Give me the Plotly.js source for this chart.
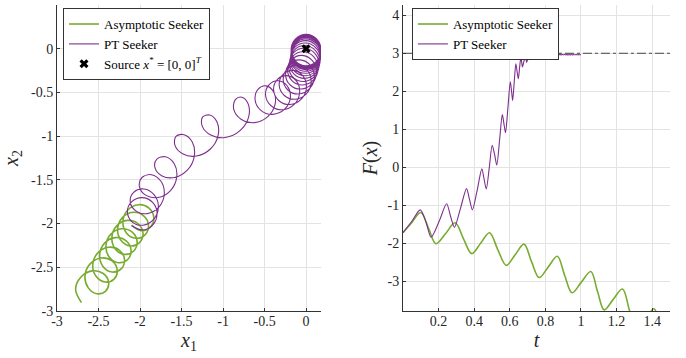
<!DOCTYPE html>
<html>
<head>
<meta charset="utf-8">
<script src="https://cdn.plot.ly/plotly-3.0.1.min.js"></script>
<style>html,body{margin:0;padding:0;background:#fff;}#chart{width:686px;height:358px;}</style>
</head>
<body>
<div id="chart"></div>
<script>
// ---- Left panel: trajectories in the (x1, x2) plane ----
const asymX = [
 -2.100,-1.988,-1.876,-1.834,-1.892,-2.020,-2.148,-2.206,
 -2.164,-2.052,-1.940,-1.898,-1.956,-2.084,-2.212,-2.270,
 -2.228,-2.117,-2.006,-1.964,-2.023,-2.152,-2.281,-2.339,
 -2.298,-2.187,-2.076,-2.035,-2.094,-2.222,-2.351,-2.410,
 -2.369,-2.259,-2.148,-2.108,-2.167,-2.297,-2.427,-2.486,
 -2.446,-2.336,-2.227,-2.187,-2.248,-2.378,-2.508,-2.569,
 -2.529,-2.421,-2.313,-2.275,-2.337,-2.469,-2.601,-2.663,
 -2.625,-2.519,-2.414,-2.378,-2.443,-2.577,-2.711,-2.776,
 -2.705];
const asymY = [
 -2.020,-2.081,-2.042,-1.933,-1.824,-1.784,-1.845,-1.976,
 -2.107,-2.168,-2.129,-2.020,-1.911,-1.871,-1.932,-2.063,
 -2.194,-2.256,-2.218,-2.110,-2.002,-1.964,-2.026,-2.158,
 -2.290,-2.352,-2.314,-2.206,-2.098,-2.059,-2.121,-2.253,
 -2.385,-2.448,-2.411,-2.304,-2.197,-2.161,-2.224,-2.357,
 -2.490,-2.554,-2.518,-2.412,-2.306,-2.271,-2.335,-2.469,
 -2.603,-2.669,-2.636,-2.532,-2.428,-2.394,-2.461,-2.597,
 -2.733,-2.803,-2.772,-2.672,-2.571,-2.541,-2.611,-2.750,
 -2.905];
const ptX = [
 -2.102,-1.975,-1.848,-1.795,-1.848,-1.975,-2.102,-2.152,
 -2.096,-1.966,-1.836,-1.779,-1.829,-1.953,-2.077,-2.118,
 -2.052,-1.913,-1.773,-1.708,-1.748,-1.863,-1.977,-2.008,
 -1.932,-1.783,-1.633,-1.558,-1.588,-1.693,-1.797,-1.821,
 -1.740,-1.584,-1.428,-1.346,-1.371,-1.469,-1.567,-1.580,
 -1.487,-1.320,-1.153,-1.060,-1.073,-1.160,-1.247,-1.251,
 -1.148,-0.972,-0.796,-0.693,-0.697,-0.774,-0.852,-0.871,
 -0.783,-0.622,-0.461,-0.373,-0.392,-0.484,-0.577,-0.614,
 -0.545,-0.401,-0.258,-0.189,-0.226,-0.336,-0.447,-0.488,
 -0.422,-0.283,-0.143,-0.078,-0.118,-0.233,-0.347,-0.391,
 -0.330,-0.194,-0.058, 0.004,-0.041,-0.159,-0.277,-0.324,
 -0.265,-0.131, 0.002, 0.061, 0.015,-0.106,-0.227,-0.276,
 -0.220,-0.089, 0.042, 0.099, 0.050,-0.074,-0.197,-0.247,
 -0.191,-0.061, 0.070, 0.126, 0.076,-0.048,-0.172,-0.223,
 -0.168,-0.039, 0.090, 0.144, 0.093,-0.032,-0.157,-0.209,
 -0.155,-0.026, 0.102, 0.156, 0.105,-0.021,-0.147,-0.199,
 -0.145,-0.017, 0.111, 0.165, 0.113,-0.013,-0.139,-0.191,
 -0.138,-0.010, 0.118, 0.171, 0.119,-0.008,-0.134,-0.187,
 -0.133,-0.006, 0.122, 0.175, 0.122,-0.004,-0.131,-0.184,
 -0.131,-0.003, 0.124, 0.177, 0.125,-0.002,-0.129,-0.182,
 -0.129,-0.001, 0.126, 0.179, 0.127, 0.000,-0.127,-0.180,
 -0.127, 0.000, 0.127, 0.180, 0.127, 0.000,-0.127,-0.180,
 -0.127, 0.000, 0.127, 0.180, 0.127, 0.000,-0.127,-0.180,
 -0.127, 0.000, 0.127, 0.180, 0.127, 0.000,-0.127,-0.180,
 -0.127, 0.000, 0.127, 0.180, 0.127, 0.000,-0.127,-0.180,
 -0.127, 0.000, 0.127, 0.180, 0.127, 0.000,-0.127,-0.180,
 -0.127, 0.000, 0.127, 0.180, 0.127, 0.000,-0.127,-0.180,
 -0.127];
const ptY = [
 -2.022,-2.073,-2.017,-1.888,-1.758,-1.703,-1.753,-1.866,
 -1.980,-2.019,-1.952,-1.811,-1.671,-1.604,-1.643,-1.749,
 -1.855,-1.886,-1.812,-1.664,-1.516,-1.441,-1.473,-1.574,
 -1.675,-1.701,-1.622,-1.469,-1.316,-1.236,-1.263,-1.358,
 -1.452,-1.473,-1.387,-1.228,-1.068,-0.983,-1.003,-1.103,
 -1.202,-1.228,-1.147,-0.993,-0.838,-0.758,-0.783,-0.885,
 -0.987,-1.015,-0.937,-0.785,-0.633,-0.555,-0.583,-0.695,
 -0.807,-0.845,-0.777,-0.635,-0.493,-0.425,-0.463,-0.584,
 -0.705,-0.751,-0.692,-0.559,-0.426,-0.366,-0.413,-0.533,
 -0.652,-0.698,-0.637,-0.503,-0.368,-0.308,-0.353,-0.473,
 -0.592,-0.638,-0.577,-0.443,-0.308,-0.248,-0.293,-0.413,
 -0.532,-0.578,-0.517,-0.383,-0.248,-0.188,-0.233,-0.353,
 -0.472,-0.518,-0.457,-0.323,-0.188,-0.128,-0.173,-0.294,
 -0.415,-0.461,-0.402,-0.269,-0.136,-0.076,-0.123,-0.245,
 -0.367,-0.415,-0.357,-0.225,-0.093,-0.035,-0.083,-0.205,
 -0.327,-0.375,-0.317,-0.185,-0.053, 0.005,-0.043,-0.166,
 -0.290,-0.339,-0.282,-0.151,-0.021, 0.036,-0.013,-0.136,
 -0.260,-0.309,-0.252,-0.121, 0.010, 0.066, 0.017,-0.107,
 -0.231,-0.281,-0.225,-0.094, 0.036, 0.092, 0.042,-0.083,
 -0.207,-0.258,-0.202,-0.073, 0.057, 0.113, 0.062,-0.063,
 -0.188,-0.239,-0.185,-0.056, 0.073, 0.128, 0.077,-0.049,
 -0.175,-0.226,-0.172,-0.044, 0.085, 0.139, 0.087,-0.039,
 -0.165,-0.217,-0.163,-0.035, 0.093, 0.147, 0.095,-0.031,
 -0.158,-0.210,-0.156,-0.028, 0.100, 0.153, 0.101,-0.025,
 -0.152,-0.204,-0.151,-0.023, 0.105, 0.158, 0.106,-0.021,
 -0.147,-0.200,-0.146,-0.019, 0.109, 0.163, 0.110,-0.017,
 -0.143,-0.196,-0.143,-0.015, 0.112, 0.165, 0.112,-0.014,
 -0.141];
const sourceX = [0];
const sourceY = [0];

// ---- Right panel: F(x) over time ----
const tAsym = [0,0.05,0.10,0.145,0.185,0.24,0.293,0.34,0.386,0.436,0.486,0.533,0.58,0.63,0.68,0.722,0.765,0.816,0.867,0.908,0.95,1.002,1.055,1.093,1.13,1.18,1.233,1.275,1.32,1.365,1.41,1.455,1.5];
const fAsym = [-1.72,-1.45,-1.19,-1.62,-2.01,-1.74,-1.46,-1.88,-2.27,-2.00,-1.72,-2.17,-2.58,-2.30,-2.02,-2.48,-2.90,-2.62,-2.34,-2.84,-3.30,-3.02,-2.74,-3.27,-3.75,-3.48,-3.20,-3.80,-4.25,-4.00,-3.72,-4.30,-4.80];
const tPT = [0,0.05,0.097,0.13,0.158,0.205,0.245,0.268,0.289,0.323,0.357,0.374,0.39,0.417,0.443,0.456,0.468,0.485,0.501,0.515,0.527,0.543,0.558,0.567,0.576,0.59,0.603,0.610,0.616,0.625,0.634,0.641,0.648,0.655,0.662,0.667,0.671,0.68,0.688,0.691,0.695,0.702,0.708,0.716,0.724,0.731,0.738,0.745,0.752,0.758,0.765,0.771,0.778,0.784,0.791,0.797,0.804,0.81,0.817,0.823,0.83,0.836,0.843,0.849,0.856,0.862,0.869,0.875,0.882,0.888,0.895,0.901,0.908,0.914,0.921,0.927,0.934,0.94,0.947,0.953,0.96,0.966,0.973,0.979,0.986,0.993,1.0];
const fPT = [-1.72,-1.42,-1.12,-1.45,-1.84,-1.40,-0.96,-1.30,-1.58,-1.08,-0.56,-0.85,-1.12,-0.60,-0.04,-0.32,-0.57,0.0,0.58,0.33,0.06,0.73,1.39,1.15,0.91,1.60,2.25,2.00,1.76,2.25,2.72,2.52,2.33,2.62,2.89,2.76,2.64,2.80,2.95,2.85,2.76,2.88,2.97,2.83,2.98,2.87,2.985,2.89,2.99,2.91,2.99,2.92,2.99,2.93,2.99,2.935,2.99,2.94,2.985,2.945,2.985,2.945,2.98,2.95,2.98,2.95,2.978,2.952,2.976,2.954,2.974,2.955,2.972,2.956,2.97,2.957,2.968,2.958,2.967,2.959,2.966,2.96,2.965,2.961,2.964,2.962,2.963];
const refT = [0, 1.5];
const refF = [3, 3];

// ---- Tick labels ----
const x1Ticks = [-3,-2.5,-2,-1.5,-1,-0.5,0];
const x1Labels = ['-3','-2.5','-2','-1.5','-1','-0.5','0'];
const x2Ticks = [-3,-2.5,-2,-1.5,-1,-0.5,0,0.5];
const x2Labels = ['-3','-2.5','-2','-1.5','-1','-0.5','0','0.5'];
const tTicks = [0.2,0.4,0.6,0.8,1,1.2,1.4];
const tLabels = ['0.2','0.4','0.6','0.8','1','1.2','1.4'];
const fTicks = [-3,-2,-1,0,1,2,3,4];
const fLabels = ['-3','-2','-1','0','1','2','3','4'];

const GREEN = '#77AC30', PURPLE = '#7E2F8E';
const FONT = 'Liberation Serif';

const traces = [
  {x: asymX, y: asymY, xaxis:'x', yaxis:'y', mode:'lines', name:'Asymptotic Seeker',
   line:{color:GREEN, width:1.6, shape:'spline', smoothing:1}, legend:'legend'},
  {x: ptX, y: ptY, xaxis:'x', yaxis:'y', mode:'lines', name:'PT Seeker',
   line:{color:PURPLE, width:1.1, shape:'spline', smoothing:1}, legend:'legend'},
  {x: sourceX, y: sourceY, xaxis:'x', yaxis:'y', mode:'markers',
   name:'Source <i>x</i><sup>*</sup> = [0, 0]<sup><i>T</i></sup>',
   marker:{symbol:'x', size:8, color:'#000'}, legend:'legend'},
  {x: refT, y: refF, xaxis:'x2', yaxis:'y2', mode:'lines', showlegend:false,
   line:{color:'#444', width:1, dash:'dashdot'}},
  {x: tAsym, y: fAsym, xaxis:'x2', yaxis:'y2', mode:'lines', name:'Asymptotic Seeker',
   line:{color:GREEN, width:1.6, shape:'spline', smoothing:1}, legend:'legend2'},
  {x: tPT, y: fPT, xaxis:'x2', yaxis:'y2', mode:'lines', name:'PT Seeker',
   line:{color:PURPLE, width:1.1, shape:'spline', smoothing:0.8}, legend:'legend2'}
];

const axBase = {
  showgrid:true, gridcolor:'#e3e3e3', gridwidth:1, zeroline:false,
  showline:true, linecolor:'#333', linewidth:1, mirror:false,
  ticks:'inside', ticklen:3, tickcolor:'#333',
  tickfont:{family:FONT, size:14, color:'#262626'}
};
const titleFont = {family:FONT, size:20, color:'#262626'};

const layout = {
  width:686, height:358,
  margin:{l:57, r:16, t:5, b:47},
  paper_bgcolor:'#fff', plot_bgcolor:'#fff',
  font:{family:FONT, color:'#000'},
  xaxis: Object.assign({}, axBase, {domain:[0,0.4307], anchor:'y', range:[-3,0.18],
    tickmode:'array', tickvals:x1Ticks, ticktext:x1Labels, ticklabelstandoff:-3,
    title:{text:'<i>x</i><sub>1</sub>', font:titleFont, standoff:4}}),
  yaxis: Object.assign({}, axBase, {domain:[0,1], anchor:'x', range:[-3,0.5],
    tickmode:'array', tickvals:x2Ticks, ticktext:x2Labels,
    title:{text:'<i>x</i><sub>2</sub>', font:titleFont, standoff:8}}),
  xaxis2: Object.assign({}, axBase, {domain:[0.5644,1], anchor:'y2', range:[0,1.5],
    tickmode:'array', tickvals:tTicks, ticktext:tLabels, ticklabelstandoff:-3,
    title:{text:'<i>t</i>', font:titleFont, standoff:4}}),
  yaxis2: Object.assign({}, axBase, {domain:[0,1], anchor:'x2', range:[-3.78,4.27],
    tickmode:'array', tickvals:fTicks, ticktext:fLabels,
    title:{text:'<i>F</i>(<i>x</i>)', font:titleFont, standoff:4}}),
  legend:{x:0.0098, y:0.99, xanchor:'left', yanchor:'top', xref:'paper', yref:'paper',
    bgcolor:'#fff', bordercolor:'#333', borderwidth:1,
    font:{family:FONT, size:13, color:'#000'}, itemwidth:30, tracegroupgap:0},
  legend2:{x:0.579, y:0.99, xanchor:'left', yanchor:'top', xref:'paper', yref:'paper',
    bgcolor:'#fff', bordercolor:'#333', borderwidth:1,
    font:{family:FONT, size:13, color:'#000'}, itemwidth:30, tracegroupgap:0},
  showlegend:true
};

Plotly.newPlot('chart', traces, layout, {displayModeBar:false, staticPlot:true});
</script>
</body>
</html>
